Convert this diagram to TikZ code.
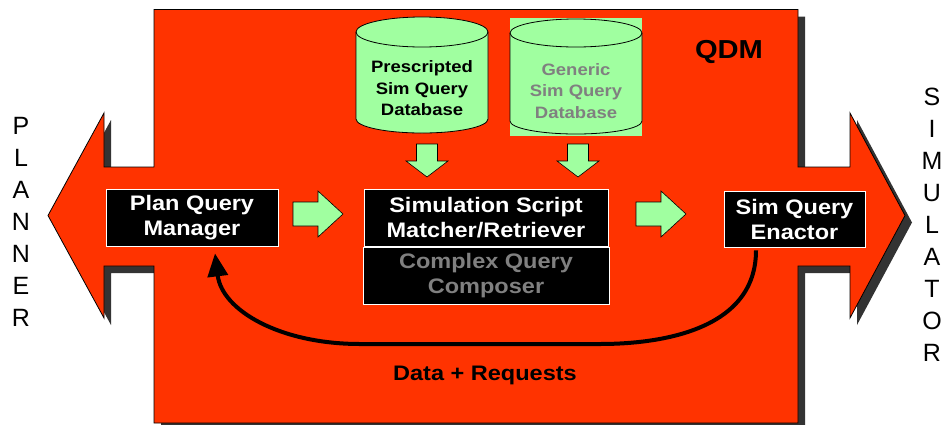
\documentclass[tikz,border=0pt]{standalone}
\usepackage{fontspec}
\setmainfont{Liberation Sans}
\newfontfamily\widefont{Liberation Sans}[FakeStretch=1.12]
\usepackage{xcolor}
\usepackage{tikz}
\usetikzlibrary{arrows.meta,shadows}

\definecolor{qdmred}{HTML}{FF3300}
\definecolor{dbgreen}{HTML}{A0FFA0}
\definecolor{dbgray}{HTML}{808080}
\definecolor{shadowgray}{HTML}{333333}

\tikzset{
	qbox/.style={fill=black,draw=white,line width=.8pt,text=white,align=center,
		inner sep=0pt,font=\widefont\bfseries\fontsize{21}{25}\selectfont},
	dbtext/.style={align=center,inner sep=0pt,
		font=\widefont\bfseries\fontsize{16.5}{21.5}\selectfont},
	dbshape/.style={fill=dbgreen,draw=black,line width=.8pt},
	greenarrow/.style={fill=dbgreen,draw=black,line width=.6pt},
	letter/.style={inner sep=0pt,font=\fontsize{25}{25}\selectfont},
	rightarrow/.pic={\filldraw[greenarrow] (0,-12) -- (25,-12) -- (25,-23) -- (50,0)
		-- (25,23) -- (25,12) -- (0,12) -- cycle;},
	downarrow/.pic={\filldraw[greenarrow] (-10.5,0) -- (-10.5,17) -- (-21,17) -- (0,33)
		-- (21,17) -- (10.5,17) -- (10.5,0) -- cycle;}
}

\begin{document}
\begin{tikzpicture}[x=1pt,y=-1pt]
	\useasboundingbox (0,0) rectangle (943,424);

	\filldraw[qdmred,draw=black,line width=.8pt,
		drop shadow={shadow xshift=7pt,shadow yshift=-7pt,fill=shadowgray,opacity=1}]
		(154,9.5) -- (798,9.5) -- (798,167) -- (850,167) -- (850,113) -- (905,215.5)
		-- (850,318) -- (850,266) -- (798,266) -- (798,423) -- (154,423) -- (154,266)
		-- (104,266) -- (104,318) -- (48,215.5) -- (104,113) -- (104,167) -- (154,167)
		-- cycle;

%	====================================================================
	\fill[dbgreen] (510,18) rectangle (642,136);
	\filldraw[dbshape] (356,32) -- (356,119)
		arc[start angle=180,end angle=360,x radius=66pt,y radius=14pt] -- (488,32)
		arc[start angle=0,end angle=180,x radius=66pt,y radius=15pt] -- cycle;
	\draw[dbshape,fill=none] (356,32)
		arc[start angle=180,end angle=360,x radius=66pt,y radius=15pt];
	\filldraw[dbshape] (510,33) -- (510,121)
		arc[start angle=180,end angle=360,x radius=66pt,y radius=13pt] -- (642,33)
		arc[start angle=0,end angle=180,x radius=66pt,y radius=14pt] -- cycle;
	\draw[dbshape,fill=none] (510,33)
		arc[start angle=180,end angle=360,x radius=66pt,y radius=14pt];

	\node[dbtext] (pdb) at (422,88.5) {Prescripted\\Sim Query\\Database};
	\node[dbtext,text=dbgray] (gdb) at (576,91) {Generic\\Sim Query\\Database};

	\pic at (427,144) {downarrow};
	\pic at (578,144) {downarrow};
%	====================================================================

	\node[qbox,minimum width=172pt,minimum height=57pt] (pqm) at (192,217.5)
		{Plan Query\\Manager};
	\node[qbox,minimum width=244pt,minimum height=57pt] (ssm) at (486,217.5)
		{Simulation Script\\Matcher/Retriever};
	\node[qbox,text=dbgray,minimum width=246pt,minimum height=57pt] (cqc) at (486,275.5)
		{Complex Query\\Composer};
	\node[qbox,minimum width=141pt,minimum height=56pt] (sqe) at (794.5,219)
		{Sim Query\\Enactor};

	\pic at (293,214) {rightarrow};
	\pic at (636,214) {rightarrow};

	\draw[line width=4pt,-{Triangle[length=23pt,width=20pt]}]
		([xshift=-38.5pt,yshift=-3pt]sqe.south) .. controls +(0,80) and +(60,0) .. (600,344)
		-- (360,344) .. controls +(-80,0) and +(7,57) .. ([xshift=23pt,yshift=-7pt]pqm.south);

	\node[font=\widefont\bfseries\fontsize{26}{26}\selectfont] (qdm) at (729,52) {QDM};
	\node[anchor=base,font=\widefont\bfseries\fontsize{21}{25}\selectfont] (dreq)
		at (485,380) {Data + Requests};

%	====================================================================
	\foreach \c [count=\i] in {P,L,A,N,N,E,R}
		\node[letter] (pl\i) at (21,94+32*\i) {\c};
	\foreach \c [count=\i] in {S,I,M,U,L,A,T,O,R}
		\node[letter] (sim\i) at (932,65+32*\i) {\c};
\end{tikzpicture}
\end{document}
